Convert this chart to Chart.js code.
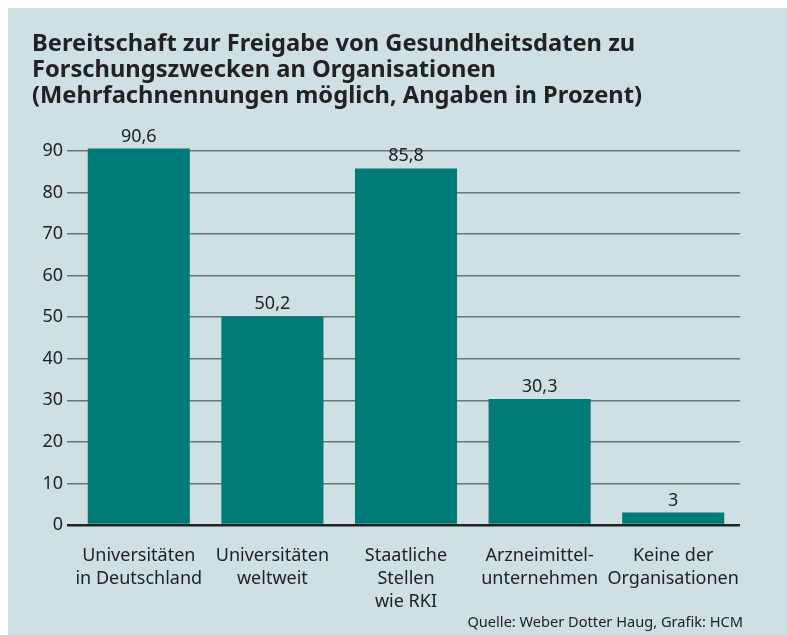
<!DOCTYPE html>
<html>
<head>
<meta charset="utf-8">
<script src="https://cdn.jsdelivr.net/npm/chart.js@4"></script>
<style>
  html,body{margin:0;padding:0;background:#fff;}
  #panel{position:absolute;left:8px;top:8px;width:779px;height:627px;background:#cee0e3;}
  #panel canvas{position:absolute;left:0;top:0;}
  #source{position:absolute;right:44px;top:603px;font:14.6px "Noto Sans",sans-serif;color:#222;white-space:nowrap;}
</style>
</head>
<body>
<div id="panel">
  <canvas id="chart" width="779" height="627"></canvas>
  <div id="source">Quelle: Weber Dotter Haug, Grafik: HCM</div>
</div>
<script>
// data
const categories=[['Universitäten','in Deutschland'],['Universitäten','weltweit'],['Staatliche','Stellen','wie RKI'],['Arzneimittel-','unternehmen'],['Keine der','Organisationen']];
const values=[90.6,50.2,85.8,30.3,3];
const valueLabels=['90,6','50,2','85,8','30,3','3'];
const titleLines=['Bereitschaft zur Freigabe von Gesundheitsdaten zu','Forschungszwecken an Organisationen','(Mehrfachnennungen möglich, Angaben in Prozent)'];

const FONT='"Noto Sans", sans-serif';
const INK='#222';

// value labels above bars
const barLabels={
  id:'barLabels',
  afterDatasetsDraw(chart){
    const ctx=chart.ctx, meta=chart.getDatasetMeta(0);
    ctx.save();
    ctx.font='18px '+FONT; ctx.fillStyle=INK; ctx.textAlign='center'; ctx.textBaseline='alphabetic';
    meta.data.forEach((bar,i)=>{ ctx.fillText(valueLabels[i],bar.x,bar.y-7); });
    ctx.restore();
  }
};

new Chart(document.getElementById('chart'),{
  type:'bar',
  data:{labels:categories,datasets:[{data:values,backgroundColor:'#007b78',borderWidth:0,clip:false,categoryPercentage:1,barPercentage:0.764}]},
  options:{
    responsive:false,animation:false,
    layout:{padding:{left:24,right:47,top:0,bottom:0}},
    plugins:{
      legend:{display:false},tooltip:{enabled:false},
      title:{display:true,text:titleLines,align:'start',color:INK,font:{family:FONT,size:23.7,weight:'bold',lineHeight:26/23.7},padding:{top:23,bottom:42}}
    },
    scales:{
      x:{
        grid:{display:false,drawTicks:false},border:{display:false},
        ticks:{color:INK,font:{family:FONT,size:18,lineHeight:23/18},padding:19,maxRotation:0,autoSkip:false},
        afterFit(s){s.height=110;}
      },
      y:{
        min:0,max:90,
        grid:{color:c=>c.tick&&c.tick.value===0?'#222':'#6e7273',lineWidth:c=>c.tick&&c.tick.value===0?2.5:1.5,tickLength:5},
        border:{display:false},
        ticks:{stepSize:10,color:INK,font:{family:FONT,size:18},padding:4},
        afterFit(s){s.width=40;}
      }
    }
  },
  plugins:[barLabels]
});
</script>
</body>
</html>
